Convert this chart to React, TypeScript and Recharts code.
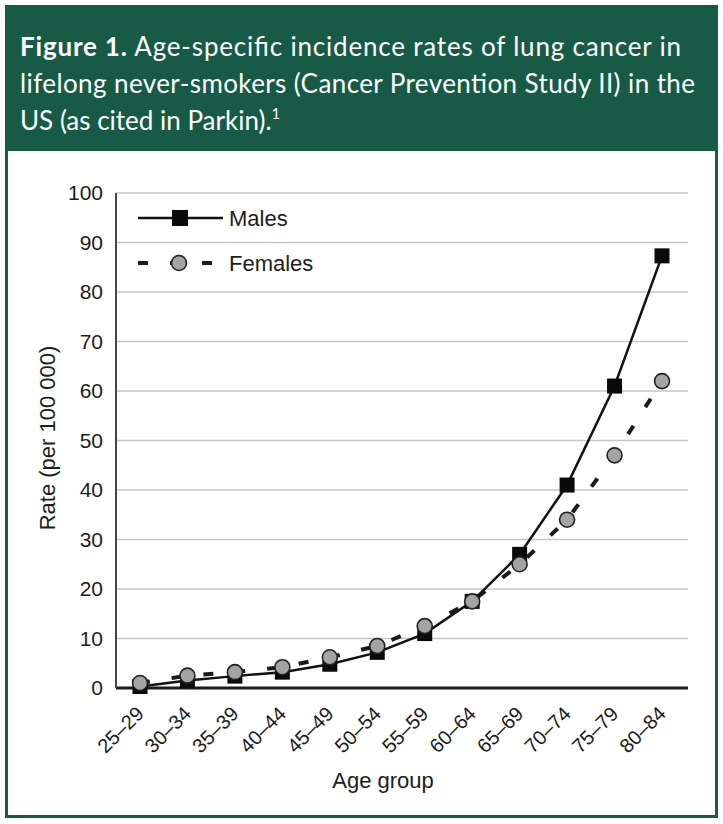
import { CartesianGrid, Line, LineChart, XAxis, YAxis } from "recharts"

// Age-specific lung cancer incidence, never-smokers (CPS II), per 100 000
const ageGroups = ["25–29", "30–34", "35–39", "40–44", "45–49", "50–54", "55–59", "60–64", "65–69", "70–74", "75–79", "80–84"]
const malesRate = [0.3, 1.5, 2.4, 3.2, 4.8, 7.2, 11, 17.5, 27, 41, 61, 87.3]
const femalesRate = [1, 2.5, 3.2, 4.2, 6.2, 8.5, 12.5, 17.5, 25, 34, 47, 62]
const rateTicks = [0, 10, 20, 30, 40, 50, 60, 70, 80, 90, 100]

const data = ageGroups.map((age, i) => ({ age, males: malesRate[i], females: femalesRate[i] }))

const GREEN = "#175b47"
const INK = "#1c1c1c"
const FONT = "'Liberation Sans', Arial, sans-serif"

const SquareDot = (props: any) => {
  const { cx, cy } = props
  if (cx == null || cy == null) return null
  return <rect x={cx - 7.5} y={cy - 7.5} width={15} height={15} fill="#0a0a0a" />
}

const CircleDot = (props: any) => {
  const { cx, cy } = props
  if (cx == null || cy == null) return null
  return <circle cx={cx} cy={cy} r={7.5} fill="#a4a4a4" stroke="#222" strokeWidth={1.6} />
}

const AgeTick = (props: any) => {
  const { x, y, payload } = props
  const ax = x + 5
  const ay = y + 25
  return (
    <text x={ax} y={ay} transform={`rotate(-45 ${ax} ${ay})`} textAnchor="end" fontFamily={FONT} fontSize={20} fill={INK}>
      {payload.value}
    </text>
  )
}

export default function App() {
  return (
    <div style={{ position: "absolute", left: 0, top: 0, width: 723, height: 824, background: "#fff" }}>
      {/* frame + caption header */}
      <svg width={723} height={824} style={{ position: "absolute", left: 0, top: 0 }}>
        <rect x={5} y={5} width={713} height={813} fill={GREEN} />
        <rect x={8} y={151} width={707} height={664} fill="#fff" />
        <g fill="#fff" fontFamily="Lato, 'Open Sans', sans-serif" fontSize={26}>
          <text x={20} y={56} textLength={661}>
            <tspan fontWeight={700}>Figure 1.</tspan> Age-specific incidence rates of lung cancer in
          </text>
          <text x={20} y={93} textLength={675}>
            lifelong never-smokers (Cancer Prevention Study II) in the
          </text>
          <text x={20} y={130}>
            US (as cited in Parkin).<tspan fontSize={15} dy={-11}>1</tspan>
          </text>
        </g>
      </svg>

      <div style={{ position: "absolute", left: 0, top: 0 }}>
        <LineChart width={723} height={824} data={data} margin={{ top: 193, right: 35, bottom: 76, left: 56 }}>
          <CartesianGrid vertical={false} stroke="#c6c6c6" strokeWidth={1.6} />
          <XAxis
            dataKey="age"
            interval={0}
            height={60}
            padding={{ left: 24, right: 26 }}
            tickLine={false}
            tickSize={0}
            tick={<AgeTick />}
            axisLine={{ stroke: "#1a1a1a", strokeWidth: 3 }}
          />
          <YAxis
            type="number"
            domain={[0, 100]}
            ticks={rateTicks}
            width={60}
            tickLine={false}
            tickSize={0}
            tickMargin={13}
            axisLine={{ stroke: "#444", strokeWidth: 2 }}
            tick={{ fontFamily: FONT, fontSize: 21, fill: INK }}
          />
          <Line
            dataKey="males"
            stroke="#111"
            strokeWidth={2.5}
            dot={<SquareDot />}
            isAnimationActive={false}
          />
          <Line
            dataKey="females"
            stroke="#1a1a1a"
            strokeWidth={4}
            strokeDasharray="10 22"
            dot={<CircleDot />}
            isAnimationActive={false}
          />
        </LineChart>
      </div>

      {/* legend and axis titles */}
      <svg width={723} height={824} style={{ position: "absolute", left: 0, top: 0, pointerEvents: "none" }}>
        <g fontFamily={FONT} fontSize={22} fill={INK}>
          <line x1={138} y1={218} x2={223} y2={218} stroke="#111" strokeWidth={2.5} />
          <rect x={172} y={210} width={16} height={16} fill="#0a0a0a" />
          <text x={229} y={226}>Males</text>
          <line x1={138} y1={263} x2={212} y2={263} stroke="#1a1a1a" strokeWidth={4} strokeDasharray="10 22" />
          <circle cx={179} cy={263} r={7.5} fill="#a4a4a4" stroke="#222" strokeWidth={1.6} />
          <text x={229} y={271}>Females</text>
          <text x={383} y={788} textAnchor="middle">Age group</text>
          <text x={55} y={438} textAnchor="middle" transform="rotate(-90 55 438)">Rate (per 100 000)</text>
        </g>
      </svg>
    </div>
  )
}
